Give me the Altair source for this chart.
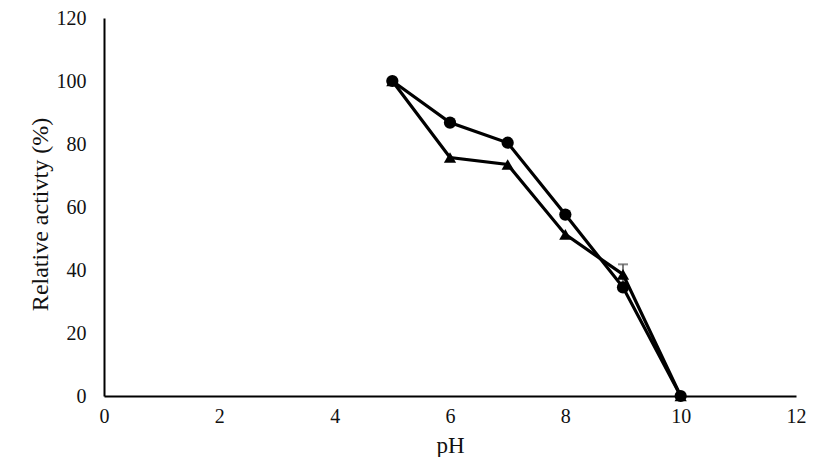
import altair as alt
import pandas as pd

pH = [5, 6, 7, 8, 9, 10]
circle_vals = [100, 86.8, 80.4, 57.6, 34.5, 0]
triangle_vals = [100, 75.7, 73.5, 51.3, 38.6, 0]
triangle_err = [0, 0, 0, 0, 3.2, 0]

rows = []
for x, y in zip(pH, circle_vals):
    rows.append({"pH": x, "val": y, "series": "A", "err": 0})
for x, y, e in zip(pH, triangle_vals, triangle_err):
    rows.append({"pH": x, "val": y, "series": "B", "err": e})
df = pd.DataFrame(rows)
df["lo"] = df["val"] - df["err"]
df["hi"] = df["val"] + df["err"]

xs = alt.Scale(domain=[0, 12], nice=False)
ys = alt.Scale(domain=[0, 120], nice=False)

base = alt.Chart(df)

x_enc = alt.X("pH:Q", scale=xs,
              axis=alt.Axis(title="pH", values=[0, 2, 4, 6, 8, 10, 12], format="d", grid=False,
                            ticks=False, tickSize=0, labelPadding=10, labelFlush=False,
                            titleBaseline="alphabetic", titleY=56, titleFontSize=23))
y_enc = alt.Y("val:Q", scale=ys,
              axis=alt.Axis(title="Relative activty (%)", values=[0, 20, 40, 60, 80, 100, 120],
                            format="d", grid=False, ticks=False, tickSize=0, labelPadding=18,
                            labelFlush=False, titleX=-64, titleY=196, titleBaseline="middle",
                            titleAlign="center", titleAngle=270, titleFontSize=24))

lines = base.mark_line(color="black", strokeWidth=3.2).encode(
    x=x_enc, y=y_enc, detail="series:N"
)

err = base.transform_filter("datum.err > 0").mark_rule(color="#555555", strokeWidth=1.5).encode(
    x="pH:Q", y="lo:Q", y2="hi:Q"
)
cap = base.transform_filter("datum.err > 0").mark_tick(color="#555555", thickness=2, size=10, orient="horizontal").encode(
    x="pH:Q", y="hi:Q"
)

points = base.mark_point(filled=True, opacity=1, color="black", size=150).encode(
    x="pH:Q", y="val:Q",
    shape=alt.Shape("series:N", scale=alt.Scale(domain=["A", "B"], range=["circle", "triangle-up"]), legend=None),
)

font = "Times New Roman, Liberation Serif, DejaVu Serif, serif"

chart = alt.layer(lines, err, cap, points).properties(
    width=692, height=378,
    autosize=alt.AutoSizeParams(type="none"),
    padding={"left": 96, "top": 10, "right": 12, "bottom": 61},
).configure_view(stroke=None).configure_axis(
    domainColor="black", domainWidth=2,
    labelFont=font, titleFont=font,
    labelFontSize=20, labelColor="#111111", titleColor="#111111",
    titleFontWeight="normal",
)

chart.save("out.html", embed_options={"renderer": "svg", "actions": False})
